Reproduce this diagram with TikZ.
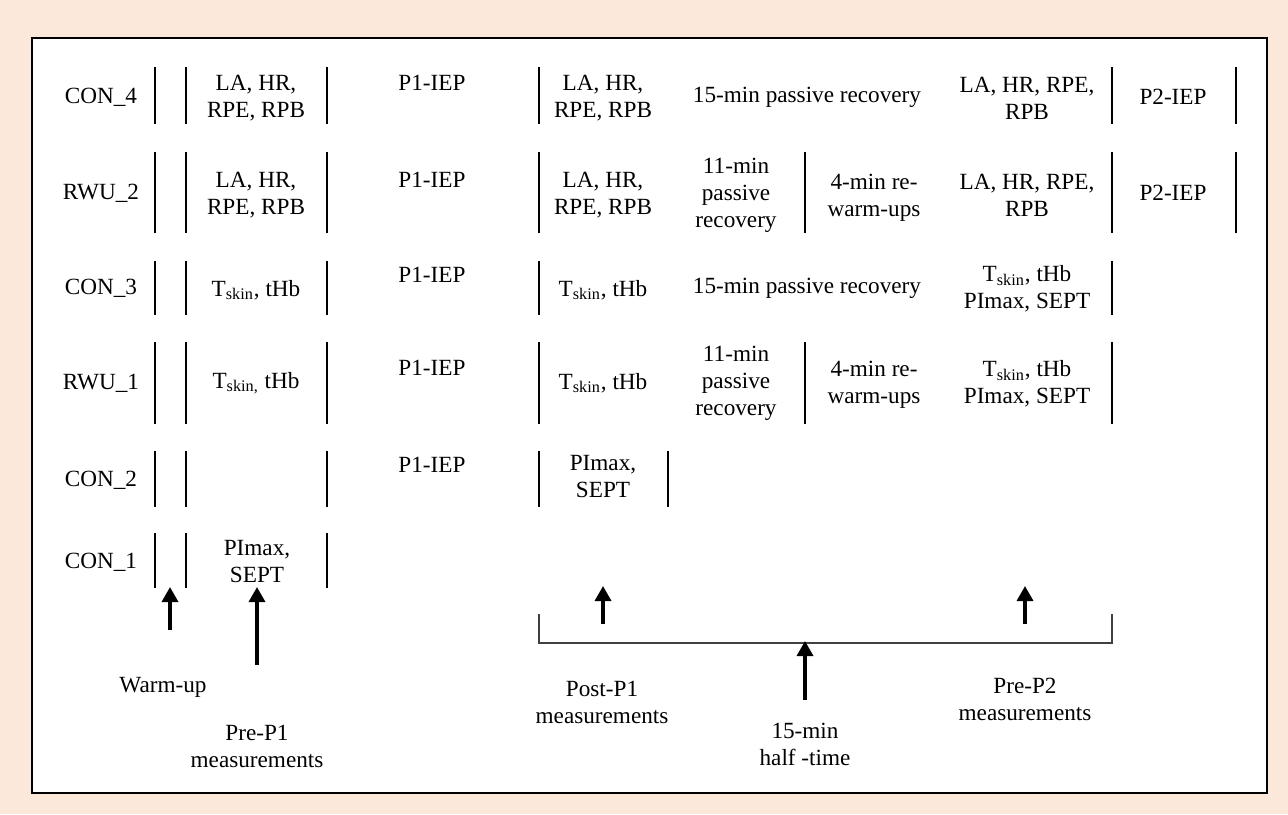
\documentclass[tikz,border=0pt]{standalone}
\usepackage{fontspec}
\setmainfont{Liberation Serif}
\usetikzlibrary{arrows.meta}
\definecolor{peach}{HTML}{FBE8DA}
\begin{document}
\begin{tikzpicture}[x=0.5pt,y=-0.5pt]
	% row tops and bottoms (separator bars)
	\def \topa{67}	\def \bota{124}
	\def \topb{152}	\def \botb{233}
	\def \topc{261}	\def \botc{315}
	\def \topd{342}	\def \botd{424}
	\def \tope{451}	\def \bote{507}
	\def \topf{533}	\def \botf{588}

	\tikzstyle{txt}=[inner sep=0pt,align=center,font=\fontsize{11.6}{13.5}\selectfont]
	\tikzstyle{sep}=[line width=0.7pt]
	\tikzstyle{brk}=[line width=0.8pt,draw=black!75]
	\tikzstyle{up}=[-{Triangle[width=8pt,length=7.5pt]},line width=1.7pt]

	% frame
	\fill[peach] (0,0) rectangle (1288,814);
	\draw[line width=1pt,fill=white] (31.5,38) rectangle (1267,793);

	% group labels
	\node[txt] (con4) at (101,97) {CON\_4};
	\node[txt] (rwu2) at (101,193) {RWU\_2};
	\node[txt] (con3) at (101,288) {CON\_3};
	\node[txt] (rwu1) at (101,383) {RWU\_1};
	\node[txt] (con2) at (101,480) {CON\_2};
	\node[txt] (con1) at (101,562) {CON\_1};

	% pre-P1 measurements
	\node[txt] (pre4) at (256,98) {LA, HR,\\RPE, RPB};
	\node[txt] (pre3) at (256,195) {LA, HR,\\RPE, RPB};
	\node[txt] (pre2) at (256,290) {T\textsubscript{skin}, tHb};
	\node[txt] (pre1) at (256,383) {T\textsubscript{skin,} tHb};
	\node[txt] (pre0) at (257,562) {PImax,\\SEPT};

	% first period
	\node[txt] (iep4) at (432,83) {P1-IEP};
	\node[txt] (iep3) at (432,180) {P1-IEP};
	\node[txt] (iep2) at (432,275) {P1-IEP};
	\node[txt] (iep1) at (432,368) {P1-IEP};
	\node[txt] (iep0) at (432,465) {P1-IEP};

	% post-P1 measurements
	\node[txt] (post4) at (603,98) {LA, HR,\\RPE, RPB};
	\node[txt] (post3) at (603,195) {LA, HR,\\RPE, RPB};
	\node[txt] (post2) at (603,290) {T\textsubscript{skin}, tHb};
	\node[txt] (post1) at (603,383) {T\textsubscript{skin}, tHb};
	\node[txt] (post0) at (603,477) {PImax,\\SEPT};

	% half-time
	\node[txt] (rec4) at (807,97) {15-min passive recovery};
	\node[txt] (rec3) at (736,195) {11-min\\passive\\recovery};
	\node[txt] (rw3) at (874,198) {4-min re-\\warm-ups};
	\node[txt] (rec2) at (807,288) {15-min passive recovery};
	\node[txt] (rec1) at (736,383) {11-min\\passive\\recovery};
	\node[txt] (rw1) at (874,385) {4-min re-\\warm-ups};

	% pre-P2 measurements
	\node[txt] (pp4) at (1027,98) {LA, HR, RPE,\\RPB};
	\node[txt] (pp3) at (1027,195) {LA, HR, RPE,\\RPB};
	\node[txt] (pp2) at (1027,289) {T\textsubscript{skin}, tHb\\PImax, SEPT};
	\node[txt] (pp1) at (1027,384) {T\textsubscript{skin}, tHb\\PImax, SEPT};

	% second period
	\node[txt] (iepb4) at (1173,97) {P2-IEP};
	\node[txt] (iepb3) at (1173,193) {P2-IEP};

	% separators
	\draw[sep] (155,\topa) -- (155,\bota) (186,\topa) -- (186,\bota) (327,\topa) -- (327,\bota)
		(539,\topa) -- (539,\bota) (1112,\topa) -- (1112,\bota) (1236,\topa) -- (1236,\bota);
	\draw[sep] (155,\topb) -- (155,\botb) (186,\topb) -- (186,\botb) (327,\topb) -- (327,\botb)
		(539,\topb) -- (539,\botb) (805,\topb) -- (805,\botb) (1112,\topb) -- (1112,\botb) (1236,\topb) -- (1236,\botb);
	\draw[sep] (155,\topc) -- (155,\botc) (186,\topc) -- (186,\botc) (327,\topc) -- (327,\botc)
		(539,\topc) -- (539,\botc) (1112,\topc) -- (1112,\botc);
	\draw[sep] (155,\topd) -- (155,\botd) (186,\topd) -- (186,\botd) (327,\topd) -- (327,\botd)
		(539,\topd) -- (539,\botd) (805,\topd) -- (805,\botd) (1112,\topd) -- (1112,\botd);
	\draw[sep] (155,\tope) -- (155,\bote) (186,\tope) -- (186,\bote) (327,\tope) -- (327,\bote)
		(539,\tope) -- (539,\bote) (668,\tope) -- (668,\bote);
	\draw[sep] (155,\topf) -- (155,\botf) (186,\topf) -- (186,\botf) (327,\topf) -- (327,\botf);

	% bracket over the half-time
	\draw[brk] (539,614) -- (539,643) -- (1112,643) -- (1112,614);

	% phase labels
	\node[txt] (warmup) at (163,687) {Warm-up};
	\node[txt] (prep1) at (257,746) {Pre-P1\\measurements};
	\node[txt] (postp1) at (602,702) {Post-P1\\measurements};
	\node[txt] (half) at (805,744) {15-min\\half -time};
	\node[txt] (prep2) at (1025,699) {Pre-P2\\measurements};

	\coordinate (wu-a) at (170,630);	\coordinate (wu-b) at (170,587);
	\coordinate (pa-a) at (257,665);	\coordinate (pa-b) at (257,587);
	\coordinate (pb-a) at (603,624);	\coordinate (pb-b) at (603,586);
	\coordinate (ht-a) at (805,700);	\coordinate (ht-b) at (805,641);
	\coordinate (pc-a) at (1025,624);	\coordinate (pc-b) at (1025,586);

	\draw[up] (wu-a) -- (wu-b);
	\draw[up] (pa-a) -- (pa-b);
	\draw[up] (pb-a) -- (pb-b);
	\draw[up] (ht-a) -- (ht-b);
	\draw[up] (pc-a) -- (pc-b);
\end{tikzpicture}
\end{document}
